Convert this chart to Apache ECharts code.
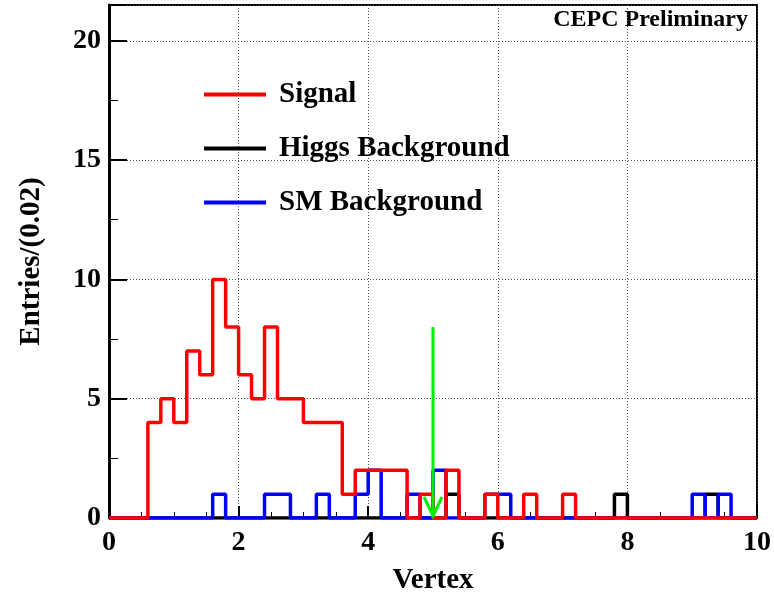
<!DOCTYPE html>
<html>
<head>
<meta charset="utf-8">
<script src="https://cdn.jsdelivr.net/npm/echarts@6/dist/echarts.min.js"></script>
<style>
  html, body { margin: 0; padding: 0; background: #fff; }
  #chart { width: 774px; height: 600px; }
</style>
</head>
<body>
<div id="chart"></div>
<script>
// histogram bins: 50 bins of 0.2 from 0 to 10
const binWidth = 0.2
const signal = [0, 0, 0, 4, 5, 4, 7, 6, 10, 8, 6, 5, 8, 5, 5, 4, 4, 4, 1, 2,
  2, 2, 2, 0, 1, 0, 2, 0, 0, 1, 0, 0, 1, 0, 0, 1, 0, 0, 0, 0,
  0, 0, 0, 0, 0, 0, 0, 0, 0, 0]
const higgsBkg = [0, 0, 0, 0, 0, 0, 0, 0, 0, 0, 0, 0, 0, 0, 0, 0, 0, 0, 0, 0,
  0, 0, 0, 0, 0, 0, 1, 0, 0, 0, 0, 0, 0, 0, 0, 0, 0, 0, 0, 1,
  0, 0, 0, 0, 0, 0, 1, 0, 0, 0]
const smBkg = [0, 0, 0, 0, 0, 0, 0, 0, 1, 0, 0, 0, 1, 1, 0, 0, 1, 0, 0, 1,
  2, 0, 0, 1, 0, 2, 0, 0, 0, 1, 1, 0, 0, 0, 0, 0, 0, 0, 0, 0,
  0, 0, 0, 0, 0, 1, 0, 1, 0, 0]
const cutArrow = [[5, 8]]   // x position of cut, arrow top

const serif = 'Liberation Serif'

// step line points from bin contents
const toSteps = (vals) => {
  const pts = vals.map((v, i) => [i * binWidth, v])
  pts.push([vals.length * binWidth, vals[vals.length - 1]])
  return pts
}

const chart = echarts.init(document.getElementById('chart'))

const histSeries = (name, vals, color, z) => ({
  name,
  type: 'line',
  step: 'end',
  data: toSteps(vals),
  symbol: 'none',
  z,
  lineStyle: { color, width: 3.5 },
  itemStyle: { color },
  animation: false
})

chart.setOption({
  animation: false,
  grid: {
    left: 109, right: 14, top: 5, bottom: 79,
    show: true, borderColor: '#000', borderWidth: 2
  },
  legend: {
    orient: 'vertical',
    left: 204,
    top: 80,
    padding: 0,
    itemWidth: 62,
    itemHeight: 4,
    itemGap: 25,
    icon: 'rect',
    data: ['Signal', 'Higgs Background', 'SM Background'],
    textStyle: {
      fontFamily: serif, fontWeight: 'bold', fontSize: 29, color: '#000',
      padding: [0, 0, 0, 8]
    }
  },
  graphic: [{
    type: 'text',
    right: 26,
    top: 8,
    style: { text: 'CEPC Preliminary', font: 'bold 24px "Liberation Serif"', fill: '#000' }
  }],
  xAxis: {
    type: 'value',
    min: 0, max: 10, interval: 2,
    name: 'Vertex',
    nameLocation: 'middle',
    nameGap: 48,
    nameTextStyle: { fontFamily: serif, fontWeight: 'bold', fontSize: 29, color: '#000' },
    axisLine: { lineStyle: { color: '#000', width: 2 } },
    axisTick: { inside: true, length: 12, lineStyle: { color: '#000', width: 2 } },
    minorTick: { show: true, splitNumber: 4, length: 6, lineStyle: { color: '#000', width: 1 } },
    axisLabel: { fontFamily: serif, fontWeight: 'bold', fontSize: 28, color: '#000', margin: 11 },
    splitLine: { show: true, lineStyle: { color: '#555', type: [1, 2], width: 1 } }
  },
  yAxis: {
    type: 'value',
    min: 0, max: 21.5, interval: 5,
    name: 'Entries/(0.02)',
    nameLocation: 'middle',
    nameGap: 63,
    nameTextStyle: { fontFamily: serif, fontWeight: 'bold', fontSize: 29, color: '#000' },
    axisLine: { lineStyle: { color: '#000', width: 3 } },
    axisTick: { inside: true, length: 18, lineStyle: { color: '#000', width: 2 } },
    minorTick: { show: true, splitNumber: 2, length: 9, lineStyle: { color: '#000', width: 1 } },
    axisLabel: {
      fontFamily: serif, fontWeight: 'bold', fontSize: 28, color: '#000', margin: 8,
      formatter: v => (v % 5 === 0 ? String(v) : '')
    },
    splitLine: { show: true, lineStyle: { color: '#555', type: [1, 2], width: 1 } }
  },
  series: [
    histSeries('Higgs Background', higgsBkg, '#000000', 2),
    histSeries('SM Background', smBkg, '#0000ff', 3),
    histSeries('Signal', signal, '#ff0000', 4),
    {
      type: 'custom',
      data: cutArrow,
      z: 5,
      silent: true,
      renderItem: (params, api) => {
        const top = api.coord([api.value(0), api.value(1)])
        const tip = api.coord([api.value(0), 0])
        const style = { stroke: '#00ee00', lineWidth: 3, fill: null }
        return {
          type: 'group',
          children: [
            { type: 'line', shape: { x1: top[0], y1: top[1], x2: tip[0], y2: tip[1] - 1 }, style },
            {
              type: 'polyline',
              shape: { points: [[tip[0] - 9, tip[1] - 21], [tip[0], tip[1] - 2], [tip[0] + 9, tip[1] - 21]] },
              style
            }
          ]
        }
      }
    }
  ]
})
</script>
</body>
</html>
